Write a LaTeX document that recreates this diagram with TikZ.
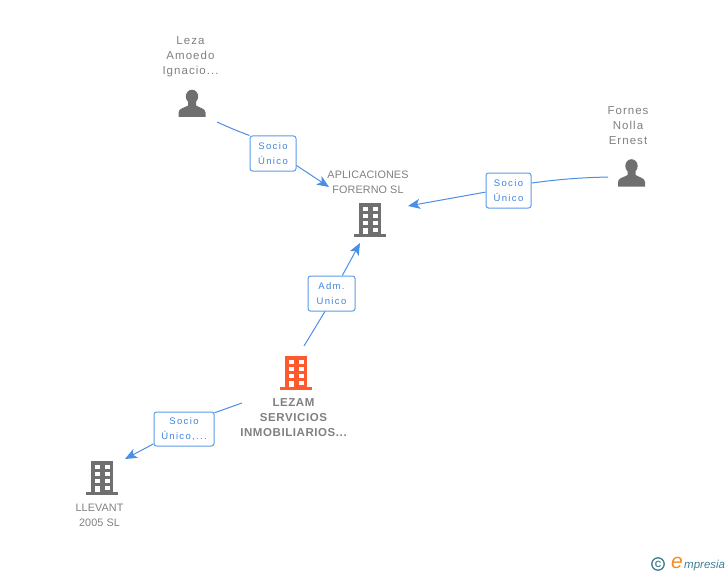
\documentclass[tikz,border=0pt]{standalone}
\usepackage{fontspec}
\usetikzlibrary{arrows.meta}
\setmainfont{Liberation Sans}
\newfontfamily\namefont[LetterSpace=9]{Liberation Sans}
\newfontfamily\firmfont[LetterSpace=1]{Liberation Sans}
\newfontfamily\leadfont[LetterSpace=5]{Liberation Sans}
\newfontfamily\relfont[LetterSpace=14]{Liberation Sans}
\definecolor{iconGray}{HTML}{6F6F6F}
\definecolor{nameGray}{HTML}{808080}
\definecolor{relBlue}{HTML}{5C9BE8}
\definecolor{connBlue}{HTML}{4A8FE6}
\definecolor{relText}{HTML}{3F84E0}
\definecolor{mainOrange}{HTML}{FF5A2D}
\definecolor{logoTeal}{HTML}{3F7F95}
\definecolor{logoOrange}{HTML}{F58A1F}
\tikzset{
  entity/.style={font=\namefont\fontsize{11.5}{15}\selectfont,text=nameGray,align=center,inner sep=0pt},
  firm/.style={font=\firmfont\fontsize{10.8}{15}\selectfont,text=nameGray,align=center,inner sep=0pt},
  mainfirm/.style={font=\leadfont\fontsize{11.5}{15}\selectfont\bfseries,text=nameGray,align=center,inner sep=0pt},
  rel/.style={draw=relBlue,line width=1pt,fill=white,rounded corners=2.5pt,inner sep=0pt,
    font=\relfont\fontsize{9.5}{15}\selectfont,text=relText,align=center},
  conn/.style={draw=connBlue,line width=1pt},
  pics/building/.style={code={
    \fill[#1] (-11,-17) rectangle (11,14);
    \fill[#1] (-16,14) rectangle (16,17);
    \foreach \y in {-13,-6,1} {
      \fill[white] (-7,\y) rectangle (-2.5,\y+4);
      \fill[white] (3,\y) rectangle (7.5,\y+4);
    }
    \fill[white] (-7,7.5) rectangle (-2.5,14);
    \fill[white] (3,7.5) rectangle (7.5,11.5);
  }},
  pics/person/.style={code={
    \fill[iconGray] (0,-7) ellipse (6.2 and 6.8);
    \fill[iconGray] (-13.5,13.5) -- (-13.5,9) .. controls (-13.5,5) and (-8,4.5) .. (-4,2)
      -- (-4,-3) -- (4,-3) -- (4,2) .. controls (8,4.5) and (13.5,5) .. (13.5,9) -- (13.5,13.5) -- cycle;
  }},
}
\begin{document}
\begin{tikzpicture}[x=1pt,y=-1pt,>={Stealth[length=12pt,width=10pt,inset=3pt]}]
  \useasboundingbox (0,0) rectangle (728,575);
  \pic at (192,103.5) {person};
  \pic at (631.5,173) {person};
  \pic at (370,220) {building=iconGray};
  \pic at (296,373) {building=mainOrange};
  \pic at (102,478) {building=iconGray};
  \node[entity] (Leza-1) at (190.5,56.5) {Leza\\Amoedo\\Ignacio...};
  \node[entity] (Fornes-1) at (628,125.5) {Fornes\\Nolla\\Ernest};
  \node[firm] (Aplicaciones-1) at (368,182) {APLICACIONES\\FORERNO SL};
  \node[mainfirm] (Lezam-1) at (293.5,417.5) {LEZAM\\SERVICIOS\\INMOBILIARIOS...};
  \node[firm] (Llevant-1) at (99.5,515) {LLEVANT\\2005 SL};
  \node[rel,minimum width=46pt,minimum height=35pt] (Socio-1) at (273,153.5) {Socio\\Único};
  \node[rel,minimum width=45pt,minimum height=35pt] (Socio-2) at (508.5,190.5) {Socio\\Único};
  \node[rel,minimum width=47pt,minimum height=35pt] (Adm-1) at (331.5,293.5) {Adm.\\Unico};
  \node[rel,minimum width=60pt,minimum height=34pt] (Socio-3) at (184,429) {Socio\\Único,...};
  \coordinate (Leza-out) at (217,122);
  \coordinate (Fornes-out) at (608,177);
  \coordinate (Lezam-up) at (304,346);
  \coordinate (Lezam-left) at (242,403);
  \coordinate (Aplicaciones-left) at (329,187);
  \coordinate (Aplicaciones-right) at (408,206);
  \coordinate (Aplicaciones-down) at (360,243);
  \coordinate (Llevant-up) at (125,459);
  \draw[conn] (Leza-out) to[bend right=2] (Socio-1.north west);
  \draw[conn,->] (Socio-1.-27) -- (Aplicaciones-left);
  \draw[conn] (Fornes-out) to[bend right=3] (Socio-2.18);
  \draw[conn,->] (Socio-2.184) -- (Aplicaciones-right);
  \draw[conn] (Lezam-up) -- (Adm-1.250);
  \draw[conn,->] (Adm-1.59) -- (Aplicaciones-down);
  \draw[conn] (Lezam-left) -- (Socio-3.28);
  \draw[conn,->] (Socio-3.206) -- (Llevant-up);
  \draw[logoTeal,line width=1.3pt] (658,564) circle (6.2);
  \node[inner sep=0pt,text=logoTeal,font=\fontsize{9}{9}\selectfont\bfseries] (Logo-c) at (658,564) {C};
  \node[inner sep=0pt,text=logoOrange,font=\fontsize{21}{21}\selectfont\itshape] (Logo-e) at (677,563) {e};
  \node[inner sep=0pt,anchor=base west,text=logoTeal,font=\fontsize{11.5}{12}\selectfont\itshape] (Logo-rest) at (684,568) {mpresia};
\end{tikzpicture}
\end{document}
